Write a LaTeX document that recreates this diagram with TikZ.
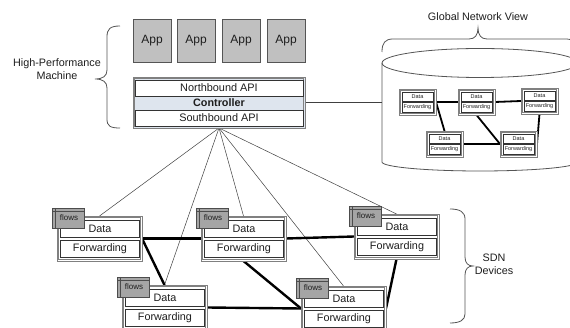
\documentclass[tikz,border=0pt]{standalone}
\usepackage{fontspec}
\setmainfont{Liberation Sans}
\usetikzlibrary{calc}
\pgfdeclarelayer{back}
\pgfdeclarelayer{bg}
\pgfsetlayers{back,bg,main}
\definecolor{appgray}{RGB}{192,192,192}
\definecolor{edgegray}{RGB}{85,85,85}
\definecolor{ctlfill}{RGB}{222,229,238}
\definecolor{tabgray}{RGB}{165,165,165}
\definecolor{txt}{RGB}{30,30,30}
\tikzset{
  every node/.style={inner sep=0pt, outer sep=0pt, text=txt},
  appbox/.style={draw=edgegray, line width=0.9pt, fill=appgray, minimum width=38pt, minimum height=43pt, anchor=north west, font=\fontsize{12}{14}\selectfont},
  ctlbox/.style={draw=gray, line width=0.7pt, fill=ctlfill, minimum width=172pt, minimum height=51pt, anchor=north west},
  apibox/.style={draw=black!80, line width=0.7pt, fill=white, minimum width=168pt, minimum height=16pt, anchor=north west, font=\fontsize{10.9}{12}\selectfont},
  devbox/.style={draw=gray, line width=0.7pt, fill=white, minimum width=85pt, minimum height=45pt, anchor=north west},
  innerline/.style={draw=gray, line width=0.7pt},
  rowbox/.style={draw=black!80, line width=0.7pt, fill=white, minimum width=79pt, minimum height=17pt, anchor=north west, font=\fontsize{10.8}{12}\selectfont},
  tabbox/.style={draw=black!70, line width=0.7pt, fill=tabgray, minimum width=32pt, minimum height=20pt, anchor=north west, font=\fontsize{8}{9}\selectfont},
  tabline/.style={draw=black!70, line width=0.7pt},
  minibox/.style={draw=gray, line width=0.6pt, fill=white, minimum width=37pt, minimum height=26pt, anchor=north west},
  minirow/.style={draw=black!80, line width=0.5pt, fill=white, minimum width=31pt, minimum height=9.5pt, anchor=north west, font=\fontsize{5.5}{6}\selectfont},
  ctlline/.style={draw=black!75, line width=0.5pt},
  datalink/.style={draw=black, line width=2.4pt},
  minilink/.style={draw=black, line width=1.8pt},
  bracecurve/.style={draw=edgegray, line width=0.8pt},
  cyl/.style={draw=edgegray, line width=0.8pt},
  lbl/.style={font=\fontsize{10.8}{13}\selectfont, align=center}
}
\newcommand\sdndev[3]{%
  \node[devbox] (#1) at (#2,#3) {};
  \draw[innerline] ($(#1.north west)+(1.8,1.8)$) rectangle ($(#1.south east)+(-1.8,-1.8)$);
  \node[rowbox] (#1-d) at ({#2+3.5},{#3+4}) {Data};
  \node[rowbox] (#1-f) at ({#2+3.5},{#3+24}) {Forwarding};
  \node[tabbox] (#1-t) at ({#2-5},{#3-8}) {\hspace{2pt}flows};
  \draw[tabline] ([yshift=-3pt]#1-t.north west) -- ([yshift=-3pt]#1-t.north east);
  \draw[tabline] ([xshift=3pt]#1-t.north west) -- ([xshift=3pt]#1-t.south west);
}
\newcommand\minidev[3]{%
  \node[minibox] (#1) at (#2,#3) {};
  \draw[innerline, line width=0.6pt] ($(#1.north west)+(1.5,1.5)$) rectangle ($(#1.south east)+(-1.5,-1.5)$);
  \node[minirow] (#1-d) at ({#2+3},{#3+3}) {Data};
  \node[minirow] (#1-f) at ({#2+3},{#3+13.5}) {Forwarding};
}
\begin{document}
\begin{tikzpicture}[x=1pt, y=-1pt]
\useasboundingbox (0,0) rectangle (570,328);
\clip (0,0) rectangle (570,328);
\begin{pgfonlayer}{back}
\fill[white] (0,0) rectangle (570,328);
% cylinder
\draw[cyl, fill=white] (382,63) -- (382,162) arc[start angle=180, end angle=360, x radius=98pt, y radius=9pt] -- (578,63);
\draw[cyl] (480,63) ellipse [x radius=98pt, y radius=14.5pt];
\end{pgfonlayer}
\coordinate (cylW) at (382,102.5);

% labels
\node[lbl] (hpm) at (57,69) {High-Performance\\Machine};
\node[lbl] (gnv) at (478,17) {Global Network View};
\node[lbl] (sdn) at (494,264) {SDN\\Devices};

% braces
\draw[bracecurve] (120,26) .. controls (110,26) and (107,29) .. (107,37) -- (107,70)
  .. controls (107,76) and (103,79) .. (95,79)
  .. controls (103,79) and (107,82) .. (107,88) -- (107,119)
  .. controls (107,126) and (110,128) .. (120,128);
\draw[bracecurve] (450,209) .. controls (460,209) and (465,212) .. (465,219) -- (465,257)
  .. controls (465,263) and (468,266) .. (473,266)
  .. controls (468,266) and (465,269) .. (465,275) -- (465,314)
  .. controls (465,320) and (460,323) .. (450,323);
\draw[bracecurve] (382,52) .. controls (382,43) and (385,39) .. (393,39) -- (469,39)
  .. controls (475,39) and (478,35) .. (478,28)
  .. controls (478,35) and (481,39) .. (487,39) -- (567,39)
  .. controls (574,39) and (578,43) .. (578,52);

% apps
\node[appbox] (app1) at (133,19) {App};
\node[appbox] (app2) at (177,19) {App};
\node[appbox] (app3) at (222,19) {App};
\node[appbox] (app4) at (267,19) {App};

% controller
\node[ctlbox] (ctl) at (133,77) {};
\draw[innerline] ($(ctl.north west)+(1.6,1.6)$) rectangle ($(ctl.south east)+(-1.6,-1.6)$);
\node[apibox] (nb) at (135,80) {Northbound API};
\node[apibox] (sb) at (135,110) {Southbound API};
\node[font=\fontsize{10.8}{12}\selectfont\bfseries] (ctltxt) at (219,103) {Controller};

% mini devices
\minidev{N1}{399}{89}
\minidev{N2}{458}{89}
\minidev{N3}{521}{88}
\minidev{N4}{426}{131}
\minidev{N5}{500}{131}

% SDN devices
\sdndev{D1}{57}{216}
\sdndev{D2}{201}{216}
\sdndev{D3}{122}{285}
\sdndev{D4}{354}{214}
\sdndev{D5}{301}{286}

\begin{pgfonlayer}{bg}
  \draw[ctlline] (ctl.east) -- (cylW);
  \draw[ctlline] (ctl.south) -- (D1.north);
  \draw[ctlline] (ctl.south) -- (D2.north);
  \draw[ctlline] (ctl.south) -- (D3.north);
  \draw[ctlline] (ctl.south) -- (D4.north);
  \draw[ctlline] (ctl.south) -- (D5.north);
  \draw[datalink] (D1.east) -- (D2.west);
  \draw[datalink] (D1.east) -- (D3.north);
  \draw[datalink] (D3.east) -- (D5.west);
  \draw[datalink] (D2.south) -- (D5.west);
  \draw[datalink] (D2.east) -- (D4.west);
  \draw[datalink] (D4.south) -- (D5.east);
  \draw[minilink] (N1.east) -- (N2.west);
  \draw[minilink] (N2.east) -- (N3.west);
  \draw[minilink] (N1.east) -- (N4.north);
  \draw[minilink] (N4.east) -- (N5.west);
  \draw[minilink] (N2.south) -- (N5.west);
  \draw[minilink] (N3.south) -- (N5.east);
\end{pgfonlayer}
\end{tikzpicture}
\end{document}
